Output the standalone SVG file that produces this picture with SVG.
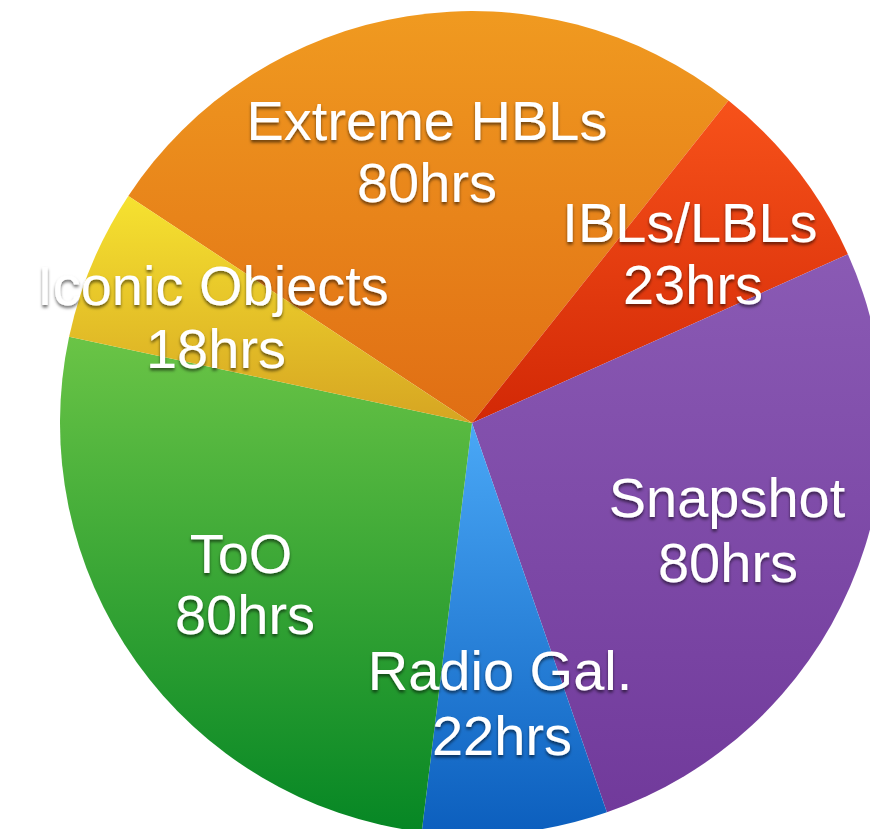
<svg xmlns="http://www.w3.org/2000/svg" width="870" height="829" viewBox="0 0 870 829">
<defs>
<linearGradient id="gOrange" gradientUnits="userSpaceOnUse" x1="0" y1="11" x2="0" y2="423"><stop offset="0" stop-color="#f09a20"/><stop offset="1" stop-color="#e06e14"/></linearGradient>
<linearGradient id="gRed" gradientUnits="userSpaceOnUse" x1="0" y1="100" x2="0" y2="423"><stop offset="0" stop-color="#f7521a"/><stop offset="1" stop-color="#d22806"/></linearGradient>
<linearGradient id="gPurple" gradientUnits="userSpaceOnUse" x1="0" y1="254" x2="0" y2="812"><stop offset="0" stop-color="#8a5ab4"/><stop offset="1" stop-color="#713a9b"/></linearGradient>
<linearGradient id="gBlue" gradientUnits="userSpaceOnUse" x1="0" y1="423" x2="0" y2="832"><stop offset="0" stop-color="#4aa8f6"/><stop offset="1" stop-color="#0c5fbe"/></linearGradient>
<linearGradient id="gGreen" gradientUnits="userSpaceOnUse" x1="0" y1="337" x2="0" y2="835"><stop offset="0" stop-color="#6ac446"/><stop offset="1" stop-color="#058624"/></linearGradient>
<linearGradient id="gYellow" gradientUnits="userSpaceOnUse" x1="0" y1="196" x2="0" y2="423"><stop offset="0" stop-color="#f6e230"/><stop offset="1" stop-color="#d6a522"/></linearGradient>
<filter id="shadow" x="-10%" y="-30%" width="120%" height="160%"><feDropShadow dx="0" dy="2.5" stdDeviation="1.6" flood-color="#000" flood-opacity="0.55"/></filter>
</defs>
<style>
.lbl{font-family:"Liberation Sans",Arial,sans-serif;font-size:56px;fill:#ffffff;text-anchor:middle;filter:url(#shadow)}
</style>
<rect width="870" height="829" fill="#ffffff"/>
<g id="slice-extreme"><path d="M472,423 L128.3,195.9 A412,412 0 0 1 728.5,100.6 Z" fill="url(#gOrange)"/></g>
<g id="slice-ibl"><path d="M472,423 L728.5,100.6 A412,412 0 0 1 847.9,254.3 Z" fill="url(#gRed)"/></g>
<g id="slice-snapshot"><path d="M472,423 L847.9,254.3 A412,412 0 0 1 606.9,812.3 Z" fill="url(#gPurple)"/></g>
<g id="slice-radio"><path d="M472,423 L606.9,812.3 A412,412 0 0 1 421.7,831.9 Z" fill="url(#gBlue)"/></g>
<g id="slice-too"><path d="M472,423 L421.7,831.9 A412,412 0 0 1 69.1,336.8 Z" fill="url(#gGreen)"/></g>
<g id="slice-iconic"><path d="M472,423 L69.1,336.8 A412,412 0 0 1 128.3,195.9 Z" fill="url(#gYellow)"/></g>
<g id="labels">
<text class="lbl" x="427" y="140">Extreme HBLs</text>
<text class="lbl" x="427" y="202">80hrs</text>
<text class="lbl" x="690" y="242">IBLs/LBLs</text>
<text class="lbl" x="693" y="304">23hrs</text>
<text class="lbl" x="213" y="305">Iconic Objects</text>
<text class="lbl" x="216" y="368">18hrs</text>
<text class="lbl" x="727" y="517">Snapshot</text>
<text class="lbl" x="728" y="582">80hrs</text>
<text class="lbl" x="241" y="573">ToO</text>
<text class="lbl" x="245" y="634">80hrs</text>
<text class="lbl" x="500" y="690">Radio Gal.</text>
<text class="lbl" x="502" y="755">22hrs</text>
</g>
</svg>
